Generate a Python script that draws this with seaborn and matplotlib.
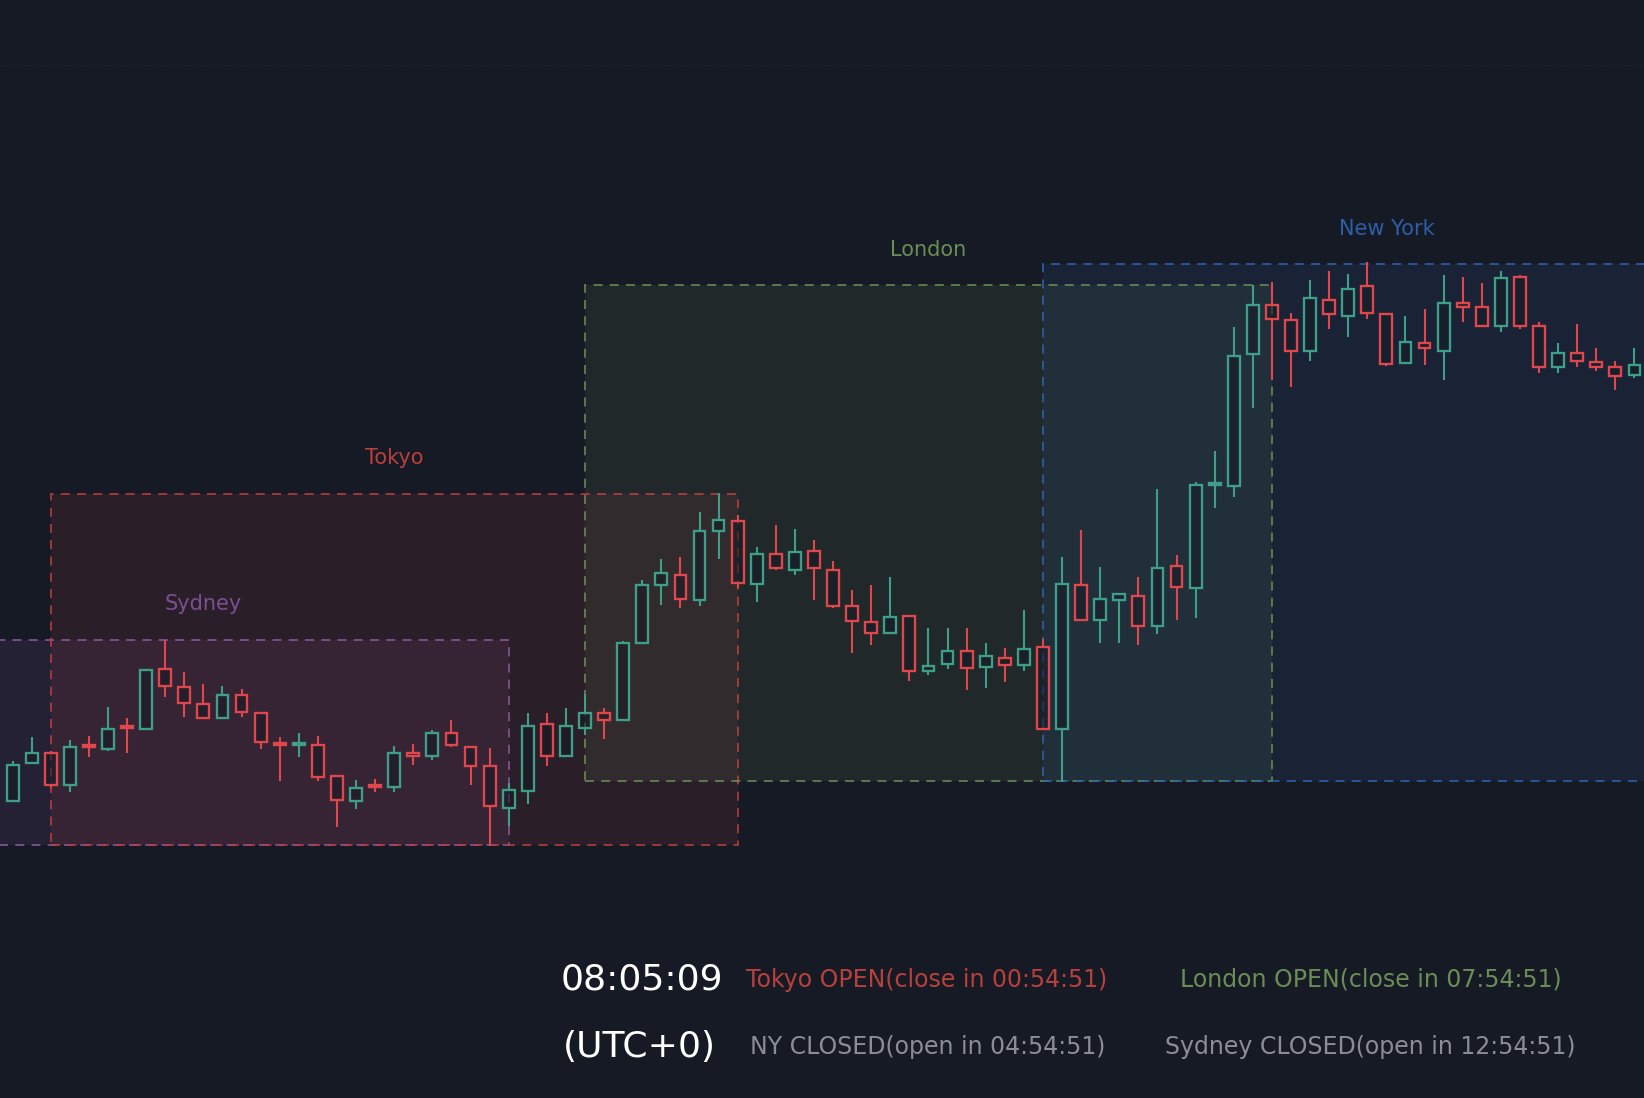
import numpy as np
import matplotlib
matplotlib.use("Agg")
import matplotlib.pyplot as plt
import seaborn as sns

# OHLC per candle (price units)
opens = [283, 319, 329, 298, 336, 333, 354, 352, 409, 392, 376, 362, 384, 367, 338, 337, 337, 307, 283, 298,
         297, 329, 326, 348, 335, 317, 277, 293, 357, 326, 353, 367, 360, 434, 489, 499, 475, 541, 550, 490,
         519, 503, 522, 503, 469, 454, 443, 460, 407, 414, 426, 411, 420, 413, 430, 352, 489, 456, 475, 479,
         450, 507, 486, 585, 584, 709, 756, 742, 712, 761, 746, 774, 748, 701, 720, 712, 758, 754, 736, 783,
         736, 697, 710, 702, 697, 689, 700]
highs = [321, 344, 331, 341, 345, 373, 362, 408, 437, 406, 395, 393, 390, 367, 344, 348, 345, 308, 303, 304,
         336, 338, 351, 360, 335, 334, 300, 367, 367, 372, 385, 372, 436, 494, 514, 516, 559, 577, 556, 525,
         546, 543, 532, 512, 484, 489, 497, 460, 448, 448, 448, 434, 429, 465, 438, 516, 542, 506, 481, 497,
         581, 518, 587, 617, 735, 775, 778, 749, 780, 789, 786, 797, 748, 746, 752, 785, 783, 777, 789, 785,
         740, 720, 738, 715, 703, 715, 718]
lows = [283, 319, 296, 292, 325, 331, 329, 352, 382, 363, 361, 362, 363, 333, 302, 325, 302, 258, 276, 292,
        292, 318, 322, 335, 298, 240, 259, 280, 317, 326, 346, 342, 360, 434, 470, 467, 469, 514, 486, 473,
        503, 499, 475, 467, 424, 432, 443, 398, 403, 409, 389, 391, 397, 407, 352, 301, 455, 434, 434, 432,
        442, 456, 458, 563, 573, 658, 685, 678, 703, 733, 726, 743, 698, 700, 699, 685, 740, 736, 730, 733,
        691, 691, 697, 693, 675, 687, 695]
closes = [318, 329, 298, 335, 335, 352, 353, 408, 393, 377, 362, 384, 368, 339, 337, 338, 306, 284, 296, 297,
          329, 326, 348, 337, 317, 278, 294, 355, 326, 355, 367, 360, 434, 489, 501, 476, 541, 551, 491, 519,
          505, 521, 505, 469, 455, 443, 459, 407, 412, 426, 410, 421, 413, 428, 352, 490, 456, 476, 481, 450,
          505, 487, 585, 586, 708, 756, 743, 712, 763, 748, 771, 749, 700, 721, 715, 758, 754, 736, 782, 736,
          697, 710, 703, 697, 688, 699, 717]

# trading sessions: start / end candle, high / low
session_names = ["Sydney", "Tokyo", "London", "New York"]
session_start = [-6, 2, 30, 54]
session_end = [26, 38, 66, 90]
session_high = [437, 576, 775, 795]
session_low = [241, 241, 302, 302]
session_colors = ["#8b5aa3", "#c0403e", "#6f8f55", "#2f65b0"]
session_text = ["#7b4f93", "#b8403c", "#6b8c55", "#2d5ea8"]

BG = "#161a25"
UP = "#3f9e87"
DOWN = "#e0474c"

sns.set_theme(style="dark")
plt.rcParams['font.family'] = ['DejaVu Sans']

fig = plt.figure(figsize=(16.44, 10.98), dpi=100, facecolor=BG)
ax = fig.add_axes([0, 0, 1, 1])
ax.set_facecolor(BG)

# session boxes
for name, s, e, hi, lo, col, tcol in zip(session_names, session_start, session_end,
                                         session_high, session_low, session_colors, session_text):
    ax.add_patch(plt.Rectangle((s, lo), e - s, hi - lo, facecolor=col, alpha=0.12,
                               edgecolor="none", zorder=1))
    ax.add_patch(plt.Rectangle((s, lo), e - s, hi - lo, facecolor="none", edgecolor=col,
                               linestyle=(0, (5, 4)), linewidth=1.3, alpha=0.85, zorder=2))
    ax.text((s + e) / 2, hi + 34, name, color=tcol, fontsize=15, ha="center", va="center")

# candles
idx = np.arange(len(opens))
o = np.array(opens); h = np.array(highs); l = np.array(lows); c = np.array(closes)
up = c >= o
cols = np.where(up, UP, DOWN)
ax.vlines(idx, l, np.minimum(o, c), color=cols, linewidth=1.5, zorder=3)
ax.vlines(idx, np.maximum(o, c), h, color=cols, linewidth=1.5, zorder=3)
body_lo = np.minimum(o, c)
body_h = np.maximum(np.abs(c - o), 1.5)
ax.bar(idx, body_h, bottom=body_lo, width=0.62, color=BG, alpha=0.55,
       edgecolor=cols, linewidth=1.6, zorder=4)
ax.bar(idx, body_h, bottom=body_lo, width=0.62, color="none",
       edgecolor=cols, linewidth=1.6, zorder=5)

ax.axhline(985, color="#2a2e39", linestyle=(0, (1, 2)), linewidth=0.8)

ax.set_xlim(-0.66, 85.5)
ax.set_ylim(0, 1047)
ax.axis("off")

# status lines
fig.text(0.440, 0.1075, "08:05:09", color="white", fontsize=26, ha="right", va="center")
fig.text(0.4355, 0.0464, "(UTC+0)", color="white", fontsize=26, ha="right", va="center")
fig.text(0.4538, 0.1075, "Tokyo OPEN(close in 00:54:51)", color="#b8403c", fontsize=17, ha="left", va="center")
fig.text(0.7178, 0.1075, "London OPEN(close in 07:54:51)", color="#6b8c55", fontsize=17, ha="left", va="center")
fig.text(0.456, 0.0464, "NY CLOSED(open in 04:54:51)", color="#8a8d96", fontsize=17, ha="left", va="center")
fig.text(0.7087, 0.0464, "Sydney CLOSED(open in 12:54:51)", color="#8a8d96", fontsize=17, ha="left", va="center")

fig.savefig("out.png", dpi=100, facecolor=BG)
